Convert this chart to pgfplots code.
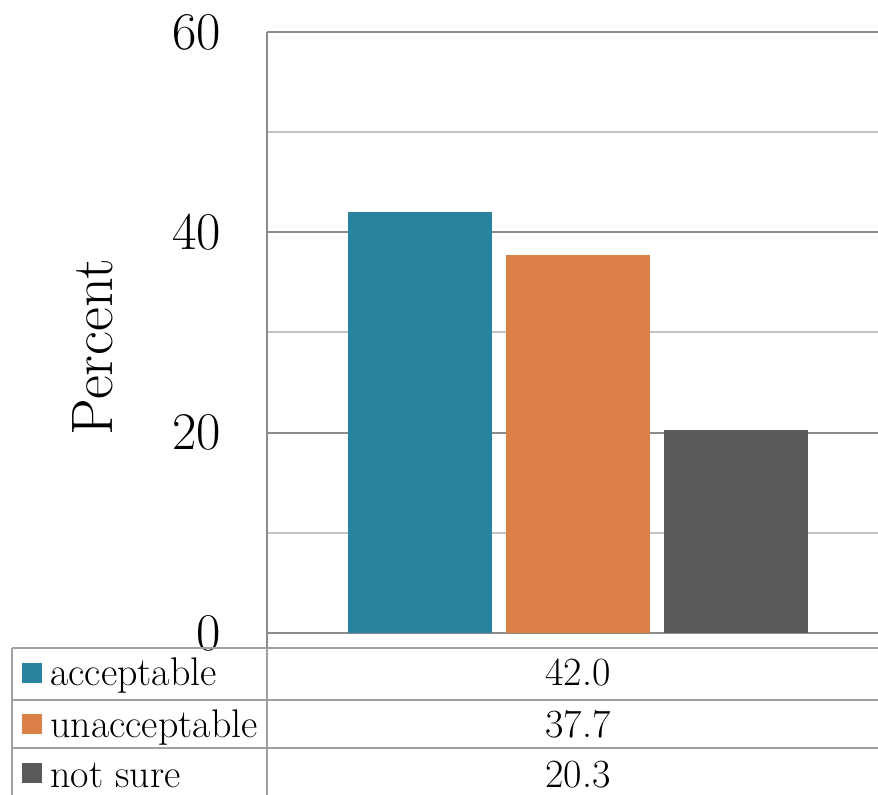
\documentclass[border=0pt]{standalone}
\usepackage{fontspec}
\usepackage{pgfplots}
\pgfplotsset{compat=1.18}
\definecolor{cteal}{HTML}{29839E}
\definecolor{corange}{HTML}{DD8047}
\definecolor{cgray}{HTML}{5A5A5A}
\definecolor{gridmaj}{HTML}{8C8C8C}
\definecolor{gridmin}{HTML}{C4C4C4}
\definecolor{tabline}{HTML}{A0A0A0}
\begin{document}
\begin{tikzpicture}[x=1bp,y=1bp]
\path[use as bounding box] (0,0) rectangle (878,795);
\clip (0,0) rectangle (878,795);
\begin{axis}[
  at={(267bp,162bp)}, anchor=south west,
  scale only axis, width=622bp, height=601bp,
  xmin=-0.5, xmax=0.5, ymin=0, ymax=60,
  enlargelimits=false,
  ybar=14bp, bar width=144bp,
  xtick=\empty,
  ytick={0,20,40,60}, minor ytick={10,30,50},
  ymajorgrids, yminorgrids,
  major grid style={draw=gridmaj, line width=2bp},
  minor grid style={draw=gridmin, line width=2bp},
  major tick length=0pt, minor tick length=0pt,
  axis x line*=bottom, axis y line*=left,
  axis line style={draw=gridmaj, line width=2bp, -},
  /pgf/number format/assume math mode=true,
  yticklabel style={font=\fontsize{53bp}{62bp}\selectfont, anchor=east, inner sep=0pt, xshift=-46bp},
  clip=true,
]
\addplot[fill=cteal, draw=none] coordinates {(0,42.0)};
\addplot[fill=corange, draw=none] coordinates {(0,37.7)};
\addplot[fill=cgray, draw=none] coordinates {(0,20.3)};
\end{axis}
\node[rotate=90, font=\fontsize{58.5bp}{66bp}\selectfont, inner sep=0pt] at (92.5,448) {Percent};
% data table
\draw[tabline, line width=2bp] (12,147) -- (900,147);
\draw[tabline, line width=2bp] (12,95) -- (900,95);
\draw[tabline, line width=2bp] (12,47) -- (900,47);
\draw[tabline, line width=2bp] (12,147) -- (12,-10);
\draw[gridmaj, line width=2bp] (267,162) -- (267,147);
\draw[tabline, line width=2bp] (267,147) -- (267,-10);
\fill[cteal] (22,112) rectangle (42,132);
\fill[corange] (22,61) rectangle (42,81);
\fill[cgray] (22,12) rectangle (42,32);
\begin{scope}[every node/.style={font=\fontsize{40bp}{48bp}\selectfont, inner sep=0pt}]
\node[anchor=base west] at (50,109) {acceptable};
\node[anchor=base west] at (50,57) {unacceptable};
\node[anchor=base west] at (50,7) {not sure};
\node[anchor=base] at (578,109) {42.0};
\node[anchor=base] at (578,57) {37.7};
\node[anchor=base] at (578,7) {20.3};
\end{scope}
\end{tikzpicture}
\end{document}
